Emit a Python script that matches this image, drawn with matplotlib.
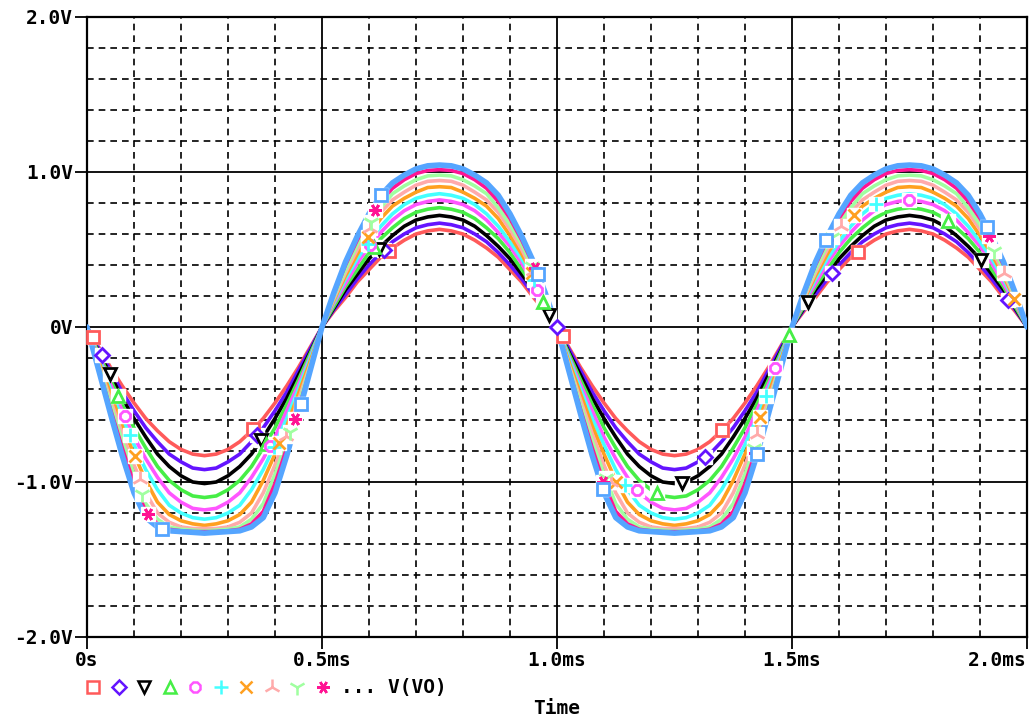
import numpy as np
import matplotlib.pyplot as plt
from matplotlib.lines import Line2D
from matplotlib.ticker import MultipleLocator, FixedFormatter, FixedLocator

# V(VO) for each step of the parameter sweep.
# Values are read every 0.025 ms over a quarter period: the *_neg lists go from
# 0.025 ms down to the trough at 0.25 ms, the *_pos lists from 0.525 ms up to the
# crest at 0.75 ms. Each lobe is symmetric and the 1 ms period repeats.
step_ms = 0.025
n_periods = 2

red_neg     = [0.13, 0.26, 0.38, 0.49, 0.59, 0.67, 0.74, 0.79, 0.82, 0.83]
red_pos     = [0.10, 0.19, 0.29, 0.37, 0.45, 0.51, 0.56, 0.60, 0.62, 0.63]
blue_neg    = [0.14, 0.28, 0.42, 0.54, 0.65, 0.74, 0.82, 0.87, 0.91, 0.92]
blue_pos    = [0.11, 0.21, 0.31, 0.40, 0.48, 0.55, 0.60, 0.64, 0.66, 0.67]
black_neg   = [0.16, 0.31, 0.46, 0.59, 0.71, 0.82, 0.90, 0.96, 1.00, 1.01]
black_pos   = [0.12, 0.24, 0.34, 0.44, 0.52, 0.59, 0.65, 0.69, 0.71, 0.72]
green_neg   = [0.17, 0.34, 0.50, 0.65, 0.78, 0.90, 0.99, 1.05, 1.09, 1.10]
green_pos   = [0.13, 0.26, 0.37, 0.48, 0.57, 0.64, 0.70, 0.74, 0.76, 0.77]
magenta_neg = [0.19, 0.37, 0.54, 0.71, 0.85, 0.97, 1.07, 1.13, 1.17, 1.18]
magenta_pos = [0.15, 0.28, 0.41, 0.52, 0.61, 0.69, 0.75, 0.79, 0.81, 0.82]
cyan_neg    = [0.20, 0.40, 0.59, 0.76, 0.92, 1.05, 1.15, 1.20, 1.23, 1.24]
cyan_pos    = [0.16, 0.31, 0.44, 0.55, 0.65, 0.73, 0.79, 0.83, 0.85, 0.86]
orange_neg  = [0.22, 0.43, 0.64, 0.82, 0.99, 1.13, 1.21, 1.25, 1.27, 1.28]
orange_pos  = [0.17, 0.33, 0.47, 0.59, 0.70, 0.78, 0.83, 0.87, 0.90, 0.905]
pink_neg    = [0.24, 0.47, 0.69, 0.89, 1.07, 1.20, 1.26, 1.29, 1.30, 1.30]
pink_pos    = [0.18, 0.35, 0.50, 0.63, 0.74, 0.82, 0.87, 0.915, 0.94, 0.945]
ltgreen_neg = [0.25, 0.50, 0.735, 0.95, 1.14, 1.24, 1.29, 1.305, 1.31, 1.315]
ltgreen_pos = [0.195, 0.37, 0.53, 0.66, 0.77, 0.86, 0.91, 0.95, 0.975, 0.98]
deeppk_neg  = [0.27, 0.53, 0.78, 1.01, 1.19, 1.27, 1.305, 1.315, 1.32, 1.32]
deeppk_pos  = [0.21, 0.40, 0.56, 0.70, 0.81, 0.895, 0.95, 0.99, 1.01, 1.015]
ltblue_neg  = [0.28, 0.56, 0.83, 1.07, 1.23, 1.29, 1.315, 1.32, 1.325, 1.33]
ltblue_pos  = [0.22, 0.42, 0.585, 0.73, 0.85, 0.93, 0.98, 1.02, 1.04, 1.045]

traces = [(red_neg, red_pos), (blue_neg, blue_pos), (black_neg, black_pos),
          (green_neg, green_pos), (magenta_neg, magenta_pos), (cyan_neg, cyan_pos),
          (orange_neg, orange_pos), (pink_neg, pink_pos), (ltgreen_neg, ltgreen_pos),
          (deeppk_neg, deeppk_pos), (ltblue_neg, ltblue_pos)]
colors = ['#ff5a5a', '#6414ff', '#000000', '#46ee46', '#ff55ff', '#44ffff',
          '#ffa020', '#ffaaaa', '#a0ffa0', '#ff1493', '#55a5ff']
markers = ['s', 'D', 'v', '^', '8', '+', 'x', '2', '1', (6, 2, 90), 's']
marker_size = [8, 7.5, 8, 8, 8, 10, 9, 12, 12, 9, 8]
# time of the first symbol on each trace (ms)
first_marker = [0.013, 0.032, 0.049, 0.066, 0.08, 0.091, 0.102, 0.113, 0.117, 0.13, 0.16]

x_ticks = [0, 0.5, 1.0, 1.5, 2.0]
x_labels = ['0s', '0.5ms', '1.0ms', '1.5ms', '2.0ms']
y_ticks = [-2, -1, 0, 1, 2]
y_labels = ['-2.0V', '-1.0V', '0V', '1.0V', '2.0V']

font = dict(family='DejaVu Sans Mono', weight='bold', size=14)


def one_period(neg, pos):
    down = [-x for x in neg] + [-x for x in neg[-2::-1]]
    up = list(pos) + list(pos[-2::-1])
    return [0] + down + [0] + up


W, H = 1033, 720
fig = plt.figure(figsize=(W / 100, H / 100), dpi=100)
ax = fig.add_axes([87 / W, 1 - 637 / H, 940 / W, 620 / H])
ax.set_xlim(0, 2.0)
ax.set_ylim(-2.0, 2.0)

ax.xaxis.set_major_locator(FixedLocator(x_ticks))
ax.xaxis.set_major_formatter(FixedFormatter(x_labels))
ax.yaxis.set_major_locator(FixedLocator(y_ticks))
ax.yaxis.set_major_formatter(FixedFormatter(y_labels))
ax.xaxis.set_minor_locator(MultipleLocator(0.1))
ax.yaxis.set_minor_locator(MultipleLocator(0.2))
ax.tick_params(which='major', direction='out', length=8.5, width=1.3, pad=1.5)
ax.tick_params(which='minor', length=0)
for lab in ax.get_xticklabels() + ax.get_yticklabels():
    lab.set_fontproperties(font)
    lab.set_fontsize(14)
ax.get_xticklabels()[-1].set_horizontalalignment('right')
ax.set_xlabel('Time', labelpad=21, **font)

ax.grid(which='major', color='black', lw=1.3, ls='-')
ax.grid(which='minor', color='black', lw=1.2, ls=(0, (4, 3)))
ax.set_axisbelow(True)
for sp in ax.spines.values():
    sp.set_linewidth(1.6)


def marker_points(tt, vv, t_first, spacing_px=225):
    # PSpice puts symbols at a roughly fixed path length along the trace
    pts = ax.transData.transform(np.column_stack([tt, vv]))
    seg = np.hypot(np.diff(pts[:, 0]), np.diff(pts[:, 1]))
    s = np.concatenate([[0], np.cumsum(seg)])
    s0 = np.interp(t_first, tt, s)
    targets = np.arange(s0, s[-1], spacing_px)
    return np.interp(targets, s, tt), np.interp(targets, s, vv)


curves = []
for neg, pos in traces:
    per = one_period(neg, pos)
    v = np.concatenate([np.tile(per, n_periods), [per[0]]])
    curves.append(v)
t = np.arange(len(curves[0])) * step_ms

for i, (v, c) in enumerate(zip(curves, colors)):
    lw = 4.0 if i == len(curves) - 1 else 2.6
    ax.plot(t, v, color=c, lw=lw, solid_joinstyle='round', solid_capstyle='round',
            zorder=3 + i * 0.01)

for i, (v, c, m) in enumerate(zip(curves, colors, markers)):
    mt, mv = marker_points(t, v, first_marker[i])
    ax.plot(mt, mv, ls='none', marker='s', ms=10, color='white', mec='white', zorder=5)
    ax.plot(mt, mv, ls='none', marker=m, ms=marker_size[i], color=c, mfc='white', mec=c,
            mew=2.0, zorder=6, clip_on=False)

# symbol row under the axis
leg_y = 1 - 687 / H
for i, (c, m) in enumerate(zip(colors[:10], markers[:10])):
    fig.add_artist(Line2D([(93 + i * 25.5) / W], [leg_y], transform=fig.transFigure,
                          ls='none', marker=m, ms=marker_size[i], color=c, mfc='white',
                          mec=c, mew=1.8))
fig.text(341 / W, leg_y, '... V(VO)', va='center', ha='left', **font)

fig.savefig('out.png', dpi=100)
